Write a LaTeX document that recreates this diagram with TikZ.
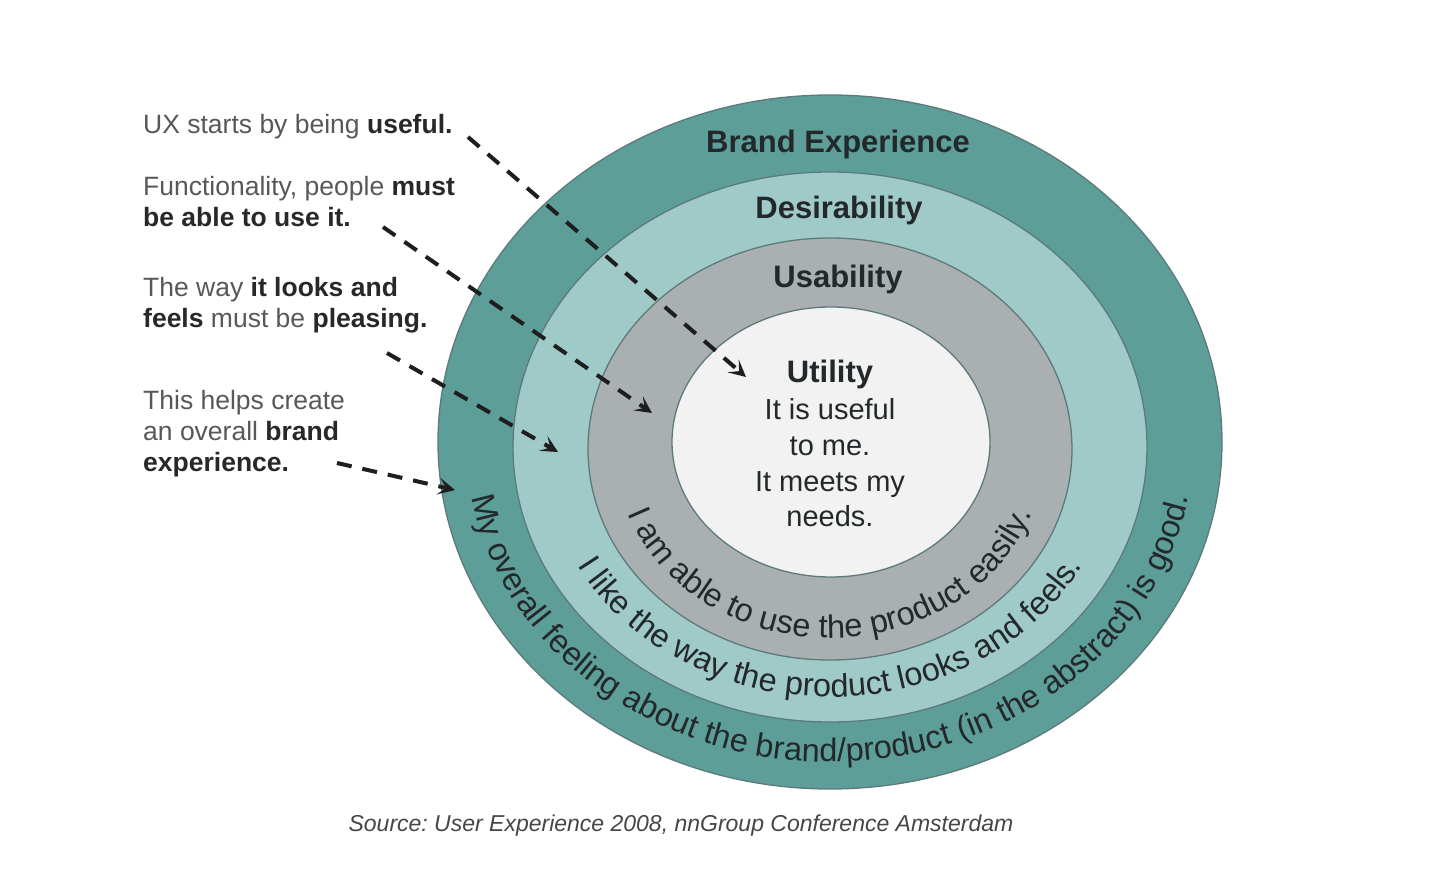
\documentclass[tikz,border=0pt]{standalone}
\usepackage{fontspec}
\setmainfont{Liberation Sans}
\usetikzlibrary{arrows.meta,decorations.text}
\definecolor{brandC}{RGB}{94,158,152}
\definecolor{desC}{RGB}{160,202,200}
\definecolor{useC}{RGB}{170,175,178}
\definecolor{utilC}{RGB}{242,242,242}
\definecolor{ringline}{RGB}{92,122,121}
\definecolor{darktxt}{RGB}{35,40,42}
\definecolor{graytxt}{RGB}{88,88,88}
\definecolor{boldtxt}{RGB}{40,40,40}
\definecolor{arrowC}{RGB}{30,30,30}
\definecolor{srcC}{RGB}{70,70,70}
\newcommand{\curvefont}{\fontsize{32.5}{32.5}\selectfont\color{darktxt}}
\newcommand{\bt}[1]{\textbf{\color{boldtxt}#1}}
\frenchspacing
\begin{document}
\begin{tikzpicture}[x=1pt,y=1pt,
  ring/.style={draw=ringline,line width=1.3pt},
  title/.style={font=\fontsize{31}{31}\selectfont\bfseries, text=darktxt, anchor=base, inner sep=0},
  body/.style={font=\fontsize{29}{29}\selectfont, text=darktxt, anchor=base, inner sep=0},
  side/.style={font=\fontsize{26.5}{26.5}\selectfont, text=graytxt, anchor=base west, inner sep=0},
  pointer/.style={draw=arrowC, line width=4pt, dash pattern=on 15pt off 11pt,
    -{Stealth[length=17pt,width=17pt,inset=8pt]}}
]
\fill[white] (0,0) rectangle (1438,892);
\useasboundingbox (0,0) rectangle (1438,892);

% rings
\draw[ring, fill=brandC] (830,450) ellipse [x radius=392, y radius=347];
\draw[ring, fill=desC] (830,445) ellipse [x radius=317, y radius=275];
\draw[ring, fill=useC] (830,443) ellipse [x radius=242, y radius=211];
\draw[ring, fill=utilC] (831,450) ellipse [x radius=159, y radius=135];

% ring titles
\node[title] (tBrand) at (838,739) {Brand Experience};
\node[title] (tDes) at (839,673) {Desirability};
\node[title] (tUse) at (838,604) {Usability};
\node[title] (tUtil) at (830,509) {Utility};
\node[body] (u1) at (830,472) {It is useful};
\node[body] (u2) at (830,436) {to me.};
\node[body] (u3) at (830,400) {It meets my};
\node[body] (u4) at (830,365) {needs.};

% curved texts
\path[decorate, decoration={text along path, text align=center,
  text={|\curvefont|I am able to use the product easily.}}]
  (830,443) ++(180:215 and 189) arc[start angle=180, end angle=360, x radius=215, y radius=189];
\path[decorate, decoration={text along path, text align=center,
  text={|\curvefont|I like the way the product looks and feels.}}]
  (830,445) ++(180:287 and 250) arc[start angle=180, end angle=360, x radius=287, y radius=250];
\path[decorate, decoration={text along path, text align=center,
  text={|\curvefont|My overall feeling about the brand/product (in the abstract) is good.}}]
  (830,450) ++(180:364 and 320) arc[start angle=180, end angle=360, x radius=364, y radius=320];

% side texts
\node[side] (a1) at (143,758) {UX starts by being \bt{useful.}};
\node[side] (b1) at (143,696) {Functionality, people \bt{must}};
\node[side] (b2) at (143,665) {\bt{be able to use it.}};
\node[side] (c1) at (143,595) {The way \bt{it looks and}};
\node[side] (c2) at (143,564) {\bt{feels} must be \bt{pleasing.}};
\node[side] (d1) at (143,482) {This helps create};
\node[side] (d2) at (143,451) {an overall \bt{brand}};
\node[side] (d3) at (143,420) {\bt{experience.}};

% arrows
\coordinate (s1) at (468,755); \coordinate (e1) at (746,515);
\coordinate (s2) at (383,665); \coordinate (e2) at (652,479);
\coordinate (s3) at (387,539); \coordinate (e3) at (558,440);
\coordinate (s4) at (337,429); \coordinate (e4) at (455,402);
\draw[pointer] (s1) -- (e1);
\draw[pointer] (s2) -- (e2);
\draw[pointer] (s3) -- (e3);
\draw[pointer] (s4) -- (e4);

% source
\node[font=\fontsize{23}{23}\selectfont\itshape, text=srcC, anchor=base, inner sep=0] (src) at (681,60)
  {Source: User Experience 2008, nnGroup Conference Amsterdam};
\end{tikzpicture}
\end{document}
